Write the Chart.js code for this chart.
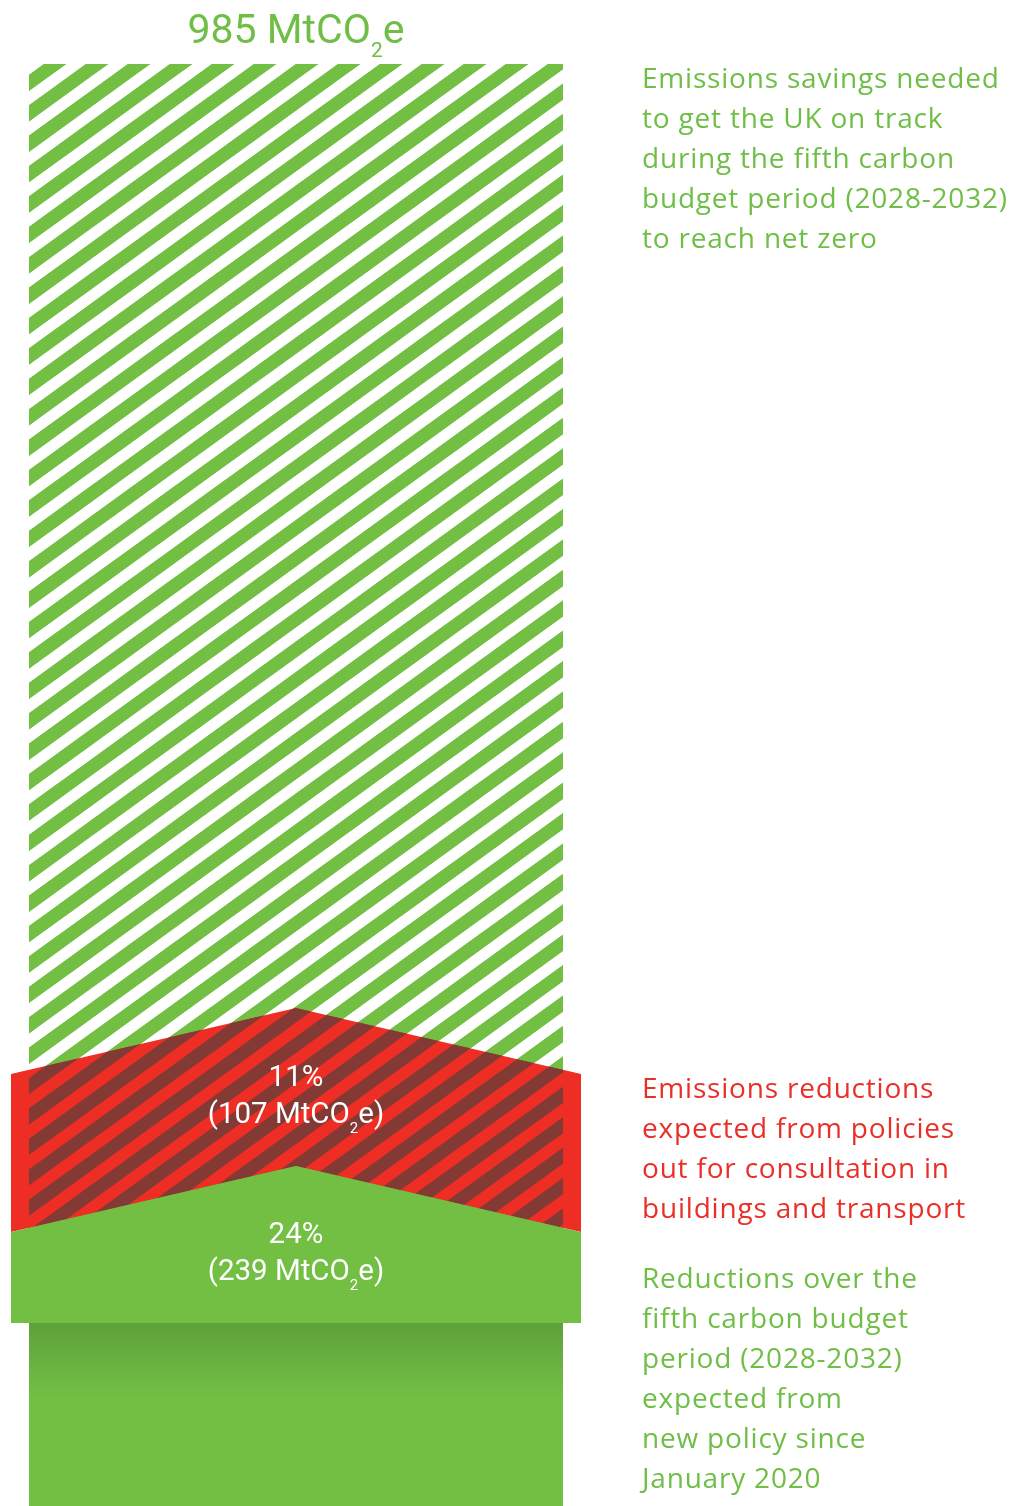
<!DOCTYPE html>
<html><head><meta charset="utf-8">
<script src="https://cdn.jsdelivr.net/npm/chart.js@4.4.1/dist/chart.umd.min.js"></script>
<style>html,body{margin:0;padding:0;overflow:hidden;background:#fff;width:1029px;height:1506px}canvas{display:block}</style>
</head><body>
<canvas id="c" width="1029" height="1519" style="width:1029px;height:1519px"></canvas>
<script>
// ---- data (MtCO2e over the fifth carbon budget period) ----
const categories = ['Fifth carbon budget (2028-2032)'];
const totalSavingsNeeded = [985];
const newPolicySavings = [239];
const consultationSavings = [107];
const sharePercent = [24, 11]; // new policy, consultation
const seriesNames = [
  'Reductions expected from new policy since January 2020',
  'Reductions expected from policies out for consultation',
  'Remaining emissions savings needed'
];
const remainingSavings = [totalSavingsNeeded[0] - newPolicySavings[0] - consultationSavings[0]];
const noteNeeded = ['Emissions savings needed','to get the UK on track','during the fifth carbon','budget period (2028-2032)','to reach net zero'];
const noteConsultation = ['Emissions reductions','expected from policies','out for consultation in','buildings and transport'];
const noteNewPolicy = ['Reductions over the','fifth carbon budget','period (2028-2032)','expected from','new policy since','January 2020'];

// ---- style ----
const GREEN = '#72bf44', GREEN_DARK = '#5da13a', RED = '#ee2e24', RED_DARK = '#833a35';
const TEXT_GREEN = '#6fbe46', TEXT_RED = '#ea2f28';
const WING = 18, DROP = 66, BAND_EDGE = 91;
const LABEL_FONT = 'Roboto', NOTE_FONT = '"Open Sans"';

const canvas = document.getElementById('c');
const ctx0 = canvas.getContext('2d');
function hatch(color){
  const W = 42, H = 30.4, REP = 5, g = 0.53;
  const TH = Math.round(H * REP);
  const c = document.createElement('canvas'); c.width = W; c.height = TH;
  const x = c.getContext('2d'); x.fillStyle = color;
  const xa = (k, y) => (k - y / H) * W;
  for (let k = -2; k <= REP + 3; k++) {
    x.beginPath();
    x.moveTo(xa(k, -H), -H); x.lineTo(xa(k + g, -H), -H);
    x.lineTo(xa(k + g, TH + H), TH + H); x.lineTo(xa(k, TH + H), TH + H);
    x.closePath(); x.fill();
  }
  const p = ctx0.createPattern(c, 'repeat');
  p.setTransform(new DOMMatrix([1, 0, 0, 1, 44, 64]));
  return p;
}
const greenHatch = hatch(GREEN), redHatch = hatch(RED_DARK);

function drawChem(ctx, str, x, y, size, family, color, align, spacing){
  const parts = [];
  const segs = str.split('CO2');
  segs.forEach((s, i) => {
    parts.push({t: s + (i < segs.length - 1 ? 'CO' : ''), sub: false});
    if (i < segs.length - 1) parts.push({t: '2', sub: true});
  });
  const f = size + 'px ' + family, fs = Math.round(size * 0.5) + 'px ' + family;
  ctx.letterSpacing = (spacing || 0) + 'px';
  let w = 0;
  parts.forEach(p => { ctx.font = p.sub ? fs : f; p.w = ctx.measureText(p.t).width; w += p.w; });
  let cx = align === 'center' ? x - w / 2 : x;
  ctx.fillStyle = color; ctx.textAlign = 'left'; ctx.textBaseline = 'alphabetic';
  parts.forEach(p => { ctx.font = p.sub ? fs : f; ctx.fillText(p.t, cx, y + (p.sub ? size * 0.33 : 0)); cx += p.w; });
  ctx.letterSpacing = '0px';
}

const ribbons = {
  id: 'ribbons',
  afterDatasetsDraw(chart){
    const ctx = chart.ctx;
    const e1 = chart.getDatasetMeta(1).data[0], e2 = chart.getDatasetMeta(2).data[0];
    const cx = e1.x, L = e1.x - e1.width / 2, R = e1.x + e1.width / 2;
    const yRedTop = e1.y, yRedBase = e1.base, yTop = e2.y;
    const OL = L - WING, OR = R + WING;
    ctx.save();
    // continuous hatch for the needed-savings bar
    ctx.fillStyle = greenHatch;
    ctx.fillRect(L, yTop, R - L, yRedBase - yTop);
    // red chevron ribbon
    const redPath = new Path2D();
    redPath.moveTo(OL, yRedTop + DROP); redPath.lineTo(cx, yRedTop); redPath.lineTo(OR, yRedTop + DROP);
    redPath.lineTo(OR, yRedBase + DROP); redPath.lineTo(cx, yRedBase); redPath.lineTo(OL, yRedBase + DROP);
    redPath.closePath();
    ctx.fillStyle = RED; ctx.fill(redPath);
    ctx.save(); ctx.clip(redPath); ctx.beginPath(); ctx.rect(L, yRedTop, R - L, yRedBase + DROP - yRedTop); ctx.clip();
    ctx.fillStyle = redHatch; ctx.fillRect(L, yRedTop, R - L, yRedBase + DROP - yRedTop);
    ctx.restore();
    // green chevron ribbon
    const yFlat = yRedBase + DROP + BAND_EDGE;
    const gPath = new Path2D();
    gPath.moveTo(OL, yRedBase + DROP); gPath.lineTo(cx, yRedBase); gPath.lineTo(OR, yRedBase + DROP);
    gPath.lineTo(OR, yFlat); gPath.lineTo(OL, yFlat); gPath.closePath();
    ctx.fillStyle = GREEN; ctx.fill(gPath);
    // value labels
    const redMid = (yRedTop + yRedBase) / 2, greenMid = (yRedBase + yFlat) / 2;
    const LS = 29.5;
    drawChem(ctx, sharePercent[1] + '%', cx, redMid - 1, LS, LABEL_FONT, '#fff', 'center');
    drawChem(ctx, '(' + consultationSavings[0] + ' MtCO2e)', cx, redMid + 36, LS, LABEL_FONT, '#fff', 'center');
    drawChem(ctx, sharePercent[0] + '%', cx, greenMid - 1, LS, LABEL_FONT, '#fff', 'center');
    drawChem(ctx, '(' + newPolicySavings[0] + ' MtCO2e)', cx, greenMid + 36, LS, LABEL_FONT, '#fff', 'center');
    // total title
    drawChem(ctx, totalSavingsNeeded[0] + ' MtCO2e', cx, yTop - 21, 41, LABEL_FONT, TEXT_GREEN, 'center');
    // notes
    const nx = 642, lh = 40, NS = 28, SP = 0.8;
    noteNeeded.forEach((t, i) => drawChem(ctx, t, nx, yTop + 24 + i * lh, NS, NOTE_FONT, TEXT_GREEN, 'left', SP));
    const n2 = yRedTop + DROP + 24;
    noteConsultation.forEach((t, i) => drawChem(ctx, t, nx, n2 + i * lh, NS, NOTE_FONT, TEXT_RED, 'left', SP));
    const n3 = yRedBase + DROP + 56;
    noteNewPolicy.forEach((t, i) => drawChem(ctx, t, nx, n3 + i * lh, NS, NOTE_FONT, TEXT_GREEN, 'left', SP));
    ctx.restore();
  }
};

new Chart(canvas, {
  type: 'bar',
  data: {
    labels: categories,
    datasets: [
      { label: seriesNames[0], data: newPolicySavings, borderWidth: 0,
        backgroundColor: (c) => {
          const ch = c.chart; if (!ch.chartArea) return GREEN;
          const top = ch.scales.y.getPixelForValue(newPolicySavings[0]) + DROP + BAND_EDGE;
          const g = ch.ctx.createLinearGradient(0, top, 0, top + 74);
          g.addColorStop(0, GREEN_DARK); g.addColorStop(1, GREEN); return g;
        } },
      { label: seriesNames[1], data: consultationSavings, borderWidth: 0, backgroundColor: greenHatch },
      { label: seriesNames[2], data: remainingSavings, borderWidth: 0, backgroundColor: greenHatch }
    ]
  },
  options: {
    responsive: false, animation: false, devicePixelRatio: 1,
    layout: { padding: { left: 29, right: 466, top: 64, bottom: 0 } },
    datasets: { bar: { barPercentage: 1, categoryPercentage: 1 } },
    scales: {
      x: { stacked: true, display: false },
      y: { stacked: true, display: false, min: 0, max: totalSavingsNeeded[0] }
    },
    plugins: { legend: { display: false }, tooltip: { enabled: false }, title: { display: false } }
  },
  plugins: [ribbons]
});
</script>
</body></html>
